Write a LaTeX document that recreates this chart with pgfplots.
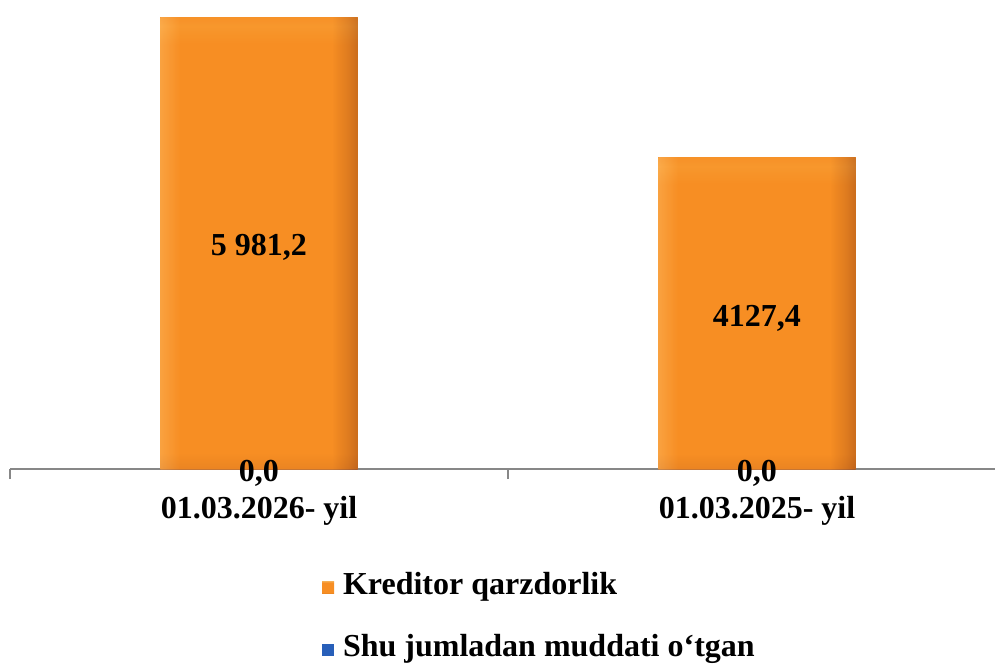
\documentclass[border=0pt]{standalone}
\usepackage{pgfplots}
\pgfplotsset{compat=1.18}
\usepackage{fontspec}
\setmainfont{Liberation Serif}
\definecolor{orMain}{RGB}{247,142,35}
\definecolor{orTop}{RGB}{254,190,85}
\definecolor{orEdge}{RGB}{246,160,62}
\definecolor{orBot}{RGB}{190,98,32}
\definecolor{orLeft}{RGB}{252,178,88}
\definecolor{orRight}{RGB}{168,82,24}
\definecolor{blDark}{RGB}{40,95,185}
\definecolor{legOrD}{RGB}{206,112,40}
\definecolor{axGray}{RGB}{135,135,135}
\pgfdeclarehorizontalshading{barbevel}{100bp}{color(0bp)=(orLeft); color(25bp)=(orLeft); color(30bp)=(orMain); color(68.5bp)=(orMain); color(72.5bp)=(orRight!55!orMain); color(75bp)=(orRight); color(100bp)=(orRight)}
\pgfdeclareverticalshading{barvA}{100bp}{color(0bp)=(orBot); color(25bp)=(orBot); color(26.7bp)=(orMain); color(71.9bp)=(orMain); color(74bp)=(orTop); color(75bp)=(orEdge); color(100bp)=(orEdge)}
\pgfdeclareverticalshading{barvB}{100bp}{color(0bp)=(orBot); color(25bp)=(orBot); color(27.4bp)=(orMain); color(70.5bp)=(orMain); color(73.5bp)=(orTop); color(75bp)=(orEdge); color(100bp)=(orEdge)}
\newcommand{\bigbf}{\fontsize{16pt}{19pt}\selectfont\bfseries}
\begin{document}
\begin{tikzpicture}[font=\bigbf]
\begin{axis}[
  at={(5pt,97.5pt)}, anchor=south west,
  scale only axis, width=492.5pt, height=226.7pt,
  xmin=-0.5, xmax=1.478, ymin=0, ymax=6000,
  axis y line=none,
  axis x line*=bottom,
  x axis line style={draw=axGray, line width=0.8pt},
  xtick={0,1},
  xticklabels={01.03.2026- yil, 01.03.2025- yil},
  major tick length=0pt,
  extra x ticks={-0.5,0.5},
  extra x tick labels={},
  extra x tick style={major tick length=5pt, tick align=outside, tick style={draw=axGray, line width=0.8pt}},
  xticklabel style={anchor=base, yshift=-24.5pt, font=\bigbf},
  ytick=\empty,
  clip=false,
  bar width=0.396,
  legend style={at={(0.3168,-0.229)}, anchor=north west, draw=none, fill=none,
    inner sep=0pt, outer sep=0pt, row sep=16pt,
    nodes={inner sep=0pt, text height=11pt, text depth=4pt}, font=\bigbf},
  legend cell align=left,
]
% Kreditor qarzdorlik, 01.03.2026
\addplot[ybar, bar shift=0pt, fill=orMain, shade, shading=barvA, draw=none,
  legend image code/.code={\fill[legOrD] (0pt,-3pt) rectangle (6pt,3pt); \path (10.5pt,0pt);}
] coordinates {(0,5981.2)};
\addlegendentry{Kreditor qarzdorlik}
\addplot[ybar, bar shift=0pt, fill=orMain, shade, shading=barbevel, draw=none, fill opacity=0.55, forget plot,
  nodes near coords, point meta=explicit symbolic,
  every node near coord/.append style={anchor=center, text=black, text opacity=1, font=\bigbf, yshift=-115pt}
] coordinates {(0,5981.2) [{5 981,2}]};
% Kreditor qarzdorlik, 01.03.2025
\addplot[ybar, bar shift=0pt, fill=orMain, shade, shading=barvB, draw=none, forget plot
] coordinates {(1,4127.4)};
\addplot[ybar, bar shift=0pt, fill=orMain, shade, shading=barbevel, draw=none, fill opacity=0.55, forget plot,
  nodes near coords, point meta=explicit symbolic,
  every node near coord/.append style={anchor=center, text=black, text opacity=1, font=\bigbf, yshift=-80.5pt}
] coordinates {(1,4127.4) [{4127,4}]};
% Shu jumladan muddati o'tgan
\addplot[ybar, bar shift=0pt, fill=blDark, draw=none,
  nodes near coords, point meta=explicit symbolic,
  every node near coord/.append style={anchor=center, text=black, font=\bigbf, yshift=-2pt},
  legend image code/.code={\fill[blDark] (0pt,-3pt) rectangle (6pt,3pt); \path (10.5pt,0pt);}
] coordinates {(0,0) [{0,0}] (1,0) [{0,0}]};
\addlegendentry{Shu jumladan muddati o‘tgan}
\end{axis}
\pgfresetboundingbox
\useasboundingbox (0,0) rectangle (497.5pt,332pt);
\end{tikzpicture}
\end{document}
